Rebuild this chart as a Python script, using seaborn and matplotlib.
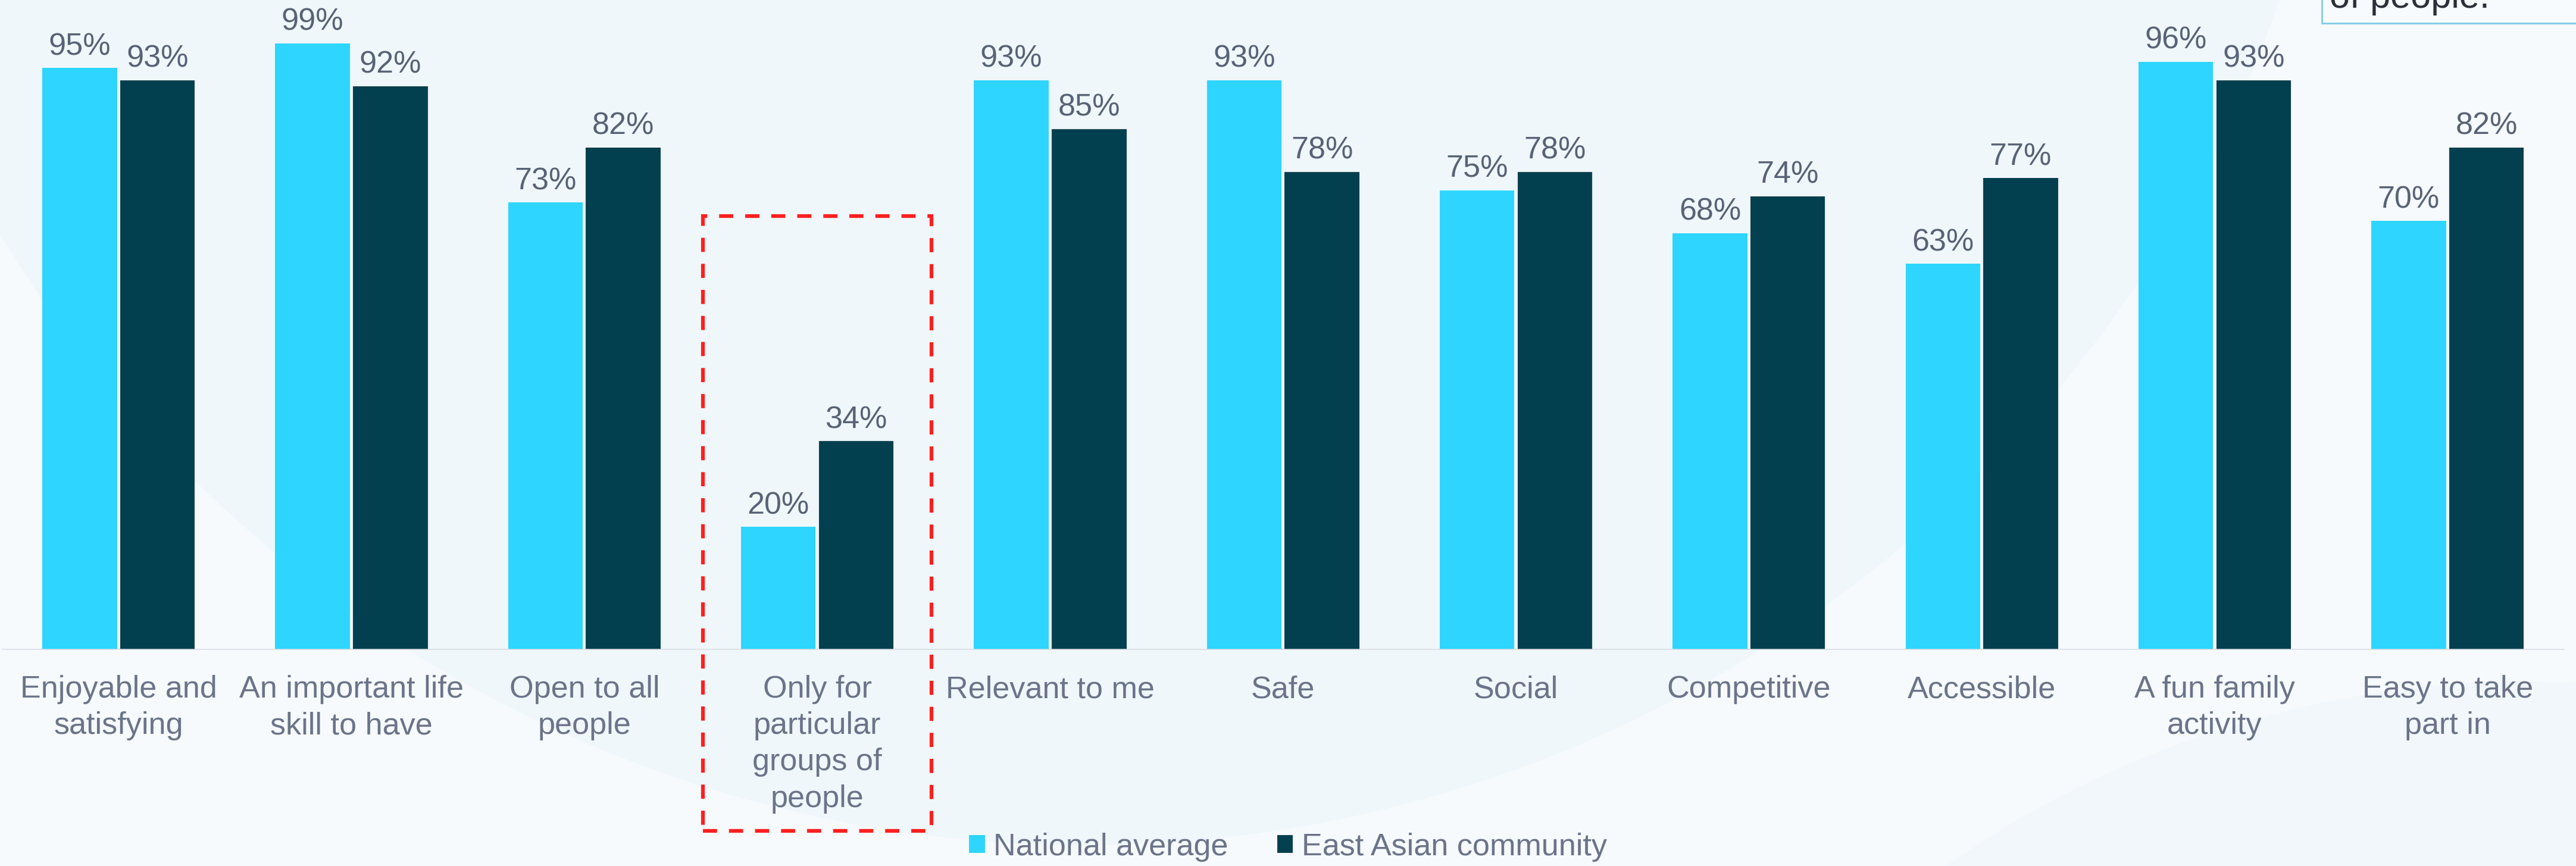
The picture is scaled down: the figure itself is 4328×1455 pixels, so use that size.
import matplotlib
matplotlib.use("Agg")
import matplotlib.pyplot as plt
from matplotlib.patches import Circle, Rectangle
import pandas as pd
import seaborn as sns

# ---- data ----
attributes = [
    "Enjoyable and\nsatisfying",
    "An important life\nskill to have",
    "Open to all\npeople",
    "Only for\nparticular\ngroups of\npeople",
    "Relevant to me",
    "Safe",
    "Social",
    "Competitive",
    "Accessible",
    "A fun family\nactivity",
    "Easy to take\npart in",
]
national_average = [95, 99, 73, 20, 93, 93, 75, 68, 63, 96, 70]
east_asian = [93, 92, 82, 34, 85, 78, 78, 74, 77, 93, 82]
groups = ["National average", "East Asian community"]
highlight_index = 3

df = pd.DataFrame({
    "attribute": attributes * 2,
    "value": national_average + east_asian,
    "group": [groups[0]] * len(attributes) + [groups[1]] * len(attributes),
})

# ---- styling ----
LIGHT = "#2ED5FF"
DARK = "#02404F"
VALUE_COLOR = "#596377"
LABEL_COLOR = "#6B7489"
FS = 37.5

plt.rcParams["font.family"] = ["Liberation Sans", "DejaVu Sans"]

W, H = 4328, 1455
fig = plt.figure(figsize=(W / 100, H / 100), dpi=100)
fig.patch.set_facecolor("#F6FAFD")

# soft decorative background shapes (pixel coordinates)
bg = fig.add_axes([0, 0, 1, 1], zorder=0)
bg.set_xlim(0, W)
bg.set_ylim(H, 0)
bg.axis("off")
bg.add_patch(Circle((1822, -710), 2130, facecolor="#EFF7FB", lw=0))
bg.add_patch(Circle((4250, 2850), 1705, facecolor="#F1F7FB", lw=0))

# main chart
ax = fig.add_axes([3.5 / W, 364 / H, 4304.5 / W, 1091 / H], zorder=1)
ax.set_facecolor("none")
sns.barplot(
    data=df, x="attribute", y="value", hue="group", hue_order=groups,
    palette=[LIGHT, DARK], width=0.668, gap=0.04, saturation=1,
    errorbar=None, linewidth=0, ax=ax,
)
ax.set_xlim(-0.5, len(attributes) - 0.5)
ax.set_ylim(0, 106.1)
ax.set_xlabel("")
ax.set_ylabel("")
ax.set_yticks([])
for side in ["top", "right", "left"]:
    ax.spines[side].set_visible(False)
ax.spines["bottom"].set_color("#D9DCE3")
ax.spines["bottom"].set_linewidth(1.1)
ax.tick_params(axis="x", length=0, pad=31, labelsize=FS, labelcolor=LABEL_COLOR)
plt.setp(ax.get_xticklabels(), linespacing=1.32)

for cont, vals in zip(ax.containers, [national_average, east_asian]):
    ax.bar_label(cont, labels=[f"{v}%" for v in vals], padding=8,
                 fontsize=FS, color=VALUE_COLOR)

# dashed highlight around one category
ax.add_patch(Rectangle((highlight_index - 0.49, -29.7), 0.98, 100.5,
                       fill=False, edgecolor="#FF1F1F", lw=4.5,
                       linestyle=(0, (3.8, 3.2)), clip_on=False, zorder=5))

# legend
handles, labels = ax.get_legend_handles_labels()
if ax.legend_ is not None:
    ax.legend_.remove()
fig.legend(handles, labels, loc="center", bbox_to_anchor=(2164 / W, 1 - 1423 / H),
           ncol=2, frameon=False, fontsize=FS, handlelength=0.51,
           handleheight=0.51, handletextpad=0.28, columnspacing=1.58,
           labelcolor=LABEL_COLOR, borderaxespad=0, borderpad=0)

# callout box in the top-right corner
bg.add_patch(Rectangle((3901, -300), 700, 339, facecolor="#F7FBFD",
                       edgecolor="#87CFE8", lw=2.2, zorder=3))
fig.text(3914 / W, 1 - 13 / H, "of people.", fontsize=44, color="#2B2F3A",
         ha="left", va="baseline", zorder=4)

fig.savefig("out.png", dpi=100, facecolor=fig.get_facecolor())
